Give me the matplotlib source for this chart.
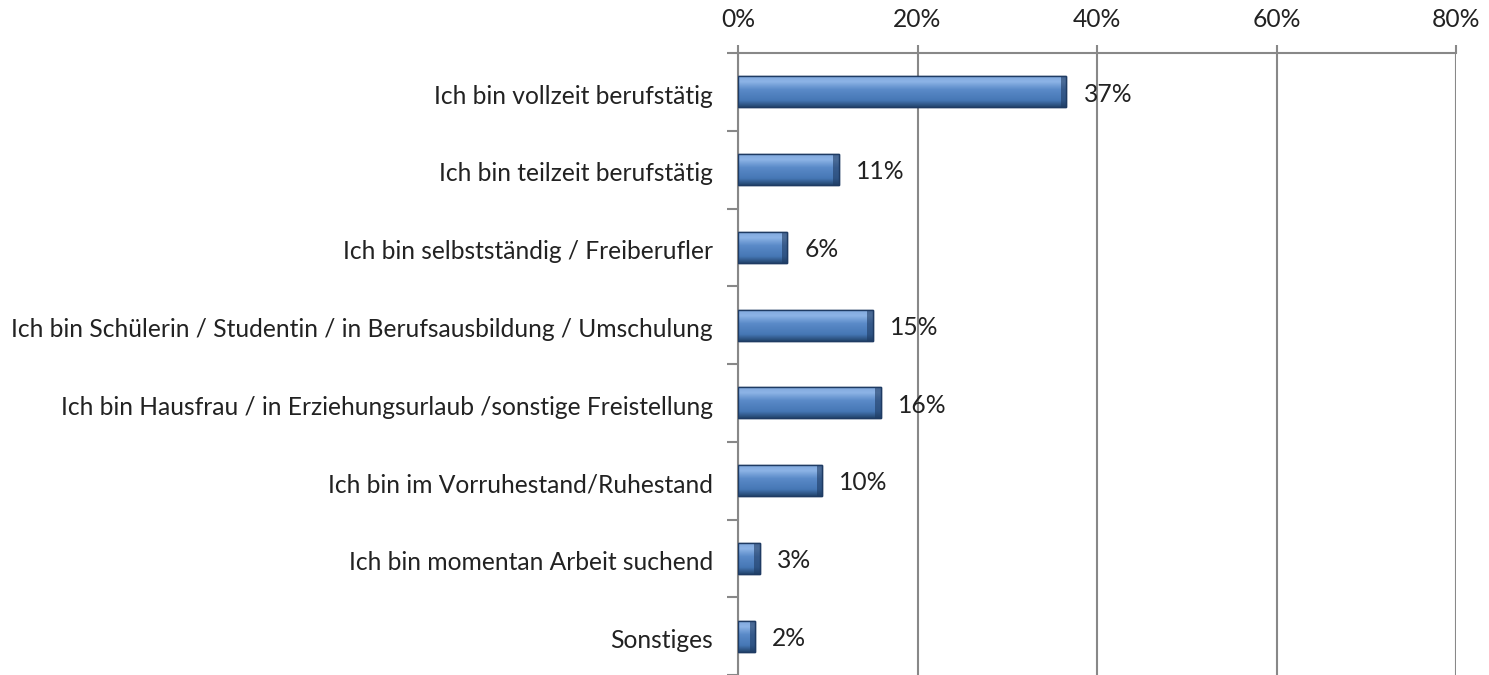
import matplotlib
matplotlib.use("Agg")
import matplotlib.pyplot as plt
import numpy as np
from matplotlib.colors import LinearSegmentedColormap

categories = [
    "Ich bin vollzeit berufstätig",
    "Ich bin teilzeit berufstätig",
    "Ich bin selbstständig / Freiberufler",
    "Ich bin Schülerin / Studentin / in Berufsausbildung / Umschulung",
    "Ich bin Hausfrau / in Erziehungsurlaub /sonstige Freistellung",
    "Ich bin im Vorruhestand/Ruhestand",
    "Ich bin momentan Arbeit suchend",
    "Sonstiges",
]
values = [0.366, 0.112, 0.055, 0.150, 0.159, 0.094, 0.024, 0.019]
value_labels = ["37%", "11%", "6%", "15%", "16%", "10%", "3%", "2%"]
x_ticks = [0.0, 0.2, 0.4, 0.6, 0.8]
x_tick_labels = ["0%", "20%", "40%", "60%", "80%"]

plt.rcParams['font.family'] = ['Lato', 'DejaVu Sans']
fig = plt.figure(figsize=(14.89, 6.75), dpi=100)
ax = fig.add_axes([738/1489, 0.0, (1456-738)/1489, 1 - 53/675])

n = len(categories)
y = np.arange(n)
bars = ax.barh(y, values, height=0.4, color="#4F81BD", edgecolor="#1F3B63", linewidth=1.0, zorder=3)

# colormap: 0 = top (light) -> 1 = bottom (dark)
cmap = LinearSegmentedColormap.from_list(
    "bevel", [(0.0, "#7FA7DC"), (0.2, "#8DB4E6"), (0.45, "#5A8AC8"), (0.8, "#4677B5"), (1.0, "#24466F")])
grad = np.linspace(0, 1, 64).reshape(-1, 1)
for b in bars:
    x0, y0 = b.get_x(), b.get_y()
    w, h = b.get_width(), b.get_height()
    im = ax.imshow(grad, cmap=cmap, aspect="auto", extent=[x0, x0 + w, y0 + h, y0],
                   origin="upper", zorder=3.5, interpolation="bilinear")
    im.set_clip_path(b)
    ew = min(w * 0.5, 0.006)
    ax.barh(y0 + h / 2, ew, left=x0 + w - ew, height=h,
            color="#1F3B63", alpha=0.6, zorder=3.6, linewidth=0)
    ax.barh(y0 + h / 2, w, left=x0, height=h, facecolor="none",
            edgecolor="#1F3B63", linewidth=1.0, zorder=3.7)

for yi, v, lab in zip(y, values, value_labels):
    ax.text(v + 0.019, yi + 0.03, lab, va="center", ha="left", fontsize=17.7, color="#222222", zorder=4)

ax.set_xlim(0, 0.8)
ax.set_ylim(n - 0.5, -0.5)
ax.xaxis.tick_top()
ax.set_xticks(x_ticks)
ax.set_xticklabels(x_tick_labels, fontsize=17.7, color="#222222")
ax.tick_params(axis="x", direction="out", length=6, width=1.5, color="#888888", pad=10)

ax.set_yticks(y + 0.03)
ax.set_yticklabels(categories, fontsize=17.7, color="#222222")
ax.set_yticks(np.arange(n + 1) - 0.5, minor=True)
ax.tick_params(axis="y", which="major", length=0, pad=18)
ax.tick_params(axis="y", which="minor", direction="out", length=8, width=1.5, color="#888888")

ax.grid(axis="x", color="#888888", linewidth=1.5, zorder=0)
for s in ["right", "bottom"]:
    ax.spines[s].set_visible(False)
for s in ["left", "top"]:
    ax.spines[s].set_color("#888888")
    ax.spines[s].set_linewidth(1.5)

fig.savefig("out.png", dpi=100)
